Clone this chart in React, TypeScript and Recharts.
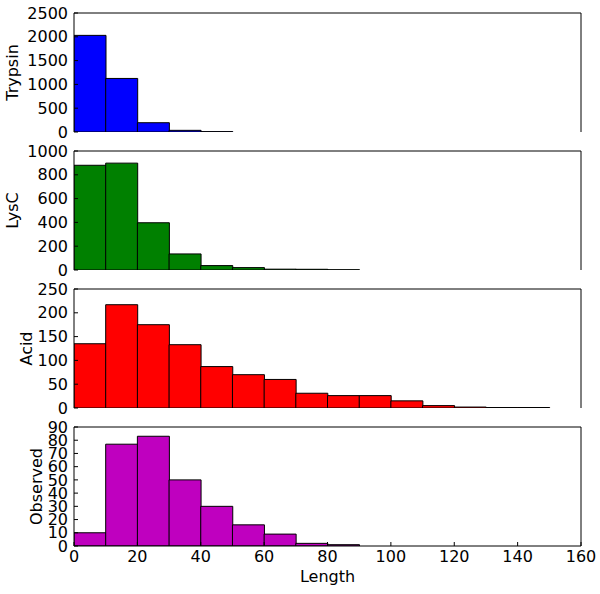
import React from 'react';
import { BarChart, Bar, XAxis, YAxis, Label } from 'recharts';

// Histogram bins of width 10 on Length 0..160 (bin centres)
const binCenters = [5, 15, 25, 35, 45, 55, 65, 75, 85, 95, 105, 115, 125, 135, 145, 155];
const xTicks = [0, 20, 40, 60, 80, 100, 120, 140, 160];

const trypsinCounts = [2030, 1125, 195, 35, 8, 0, 0, 0, 0, 0, 0, 0, 0, 0, 0, 0];
const lysCCounts = [880, 898, 397, 135, 37, 20, 7, 6, 2, 0, 0, 0, 0, 0, 0, 0];
const acidCounts = [135, 217, 175, 133, 87, 70, 60, 31, 26, 26, 15, 5, 2, 1, 1, 0];
const observedCounts = [10, 77, 83, 50, 30, 16, 9, 2, 1, 0, 0, 0, 0, 0, 0, 0];

const trypsinTicks = [0, 500, 1000, 1500, 2000, 2500];
const lysCTicks = [0, 200, 400, 600, 800, 1000];
const acidTicks = [0, 50, 100, 150, 200, 250];
const observedTicks = [0, 10, 20, 30, 40, 50, 60, 70, 80, 90];

const FONT = "'DejaVu Sans', sans-serif";

type PanelProps = {
  values: number[];
  color: string;
  name: string;
  yTicks: number[];
  top: number;
  showX: boolean;
  labelX: number;
};

function Panel({ values, color, name, yTicks, top, showX, labelX }: PanelProps) {
  const data = binCenters.map((m, i) => ({ mid: m, count: values[i] > 0 ? values[i] : null }));
  const yMax = yTicks[yTicks.length - 1];
  const mt = 10;
  const plotH = 119;
  const xh = showX ? 48 : 0;
  const mb = showX ? 0 : 10;
  const h = mt + plotH + xh + mb;
  return (
    <div style={{ position: 'absolute', left: 0, top: top - mt, width: 600, height: h }}>
      <BarChart
        width={600}
        height={h}
        data={data}
        margin={{ top: mt - 1, right: 18, bottom: mb, left: 0 }}
        barCategoryGap={0}
        barGap={0}
      >
        <XAxis
          xAxisId="b"
          dataKey="mid"
          type="number"
          domain={[0, 160]}
          ticks={xTicks}
          interval={0}
          allowDataOverflow
          orientation="bottom"
          height={xh}
          tick={showX ? { fill: '#000', fontSize: 16, fontFamily: FONT } : false}
          tickSize={-4}
          tickMargin={9}
          stroke="#000"
        >
          {showX && (
            <Label
              content={(p: any) => {
                const vb = p.viewBox || { x: 74, y: 546, width: 507, height: 48 };
                return (
                  <text
                    x={vb.x + vb.width / 2}
                    y={vb.y + 35.5}
                    textAnchor="middle"
                    fontSize={16}
                    fontFamily={FONT}
                    fill="#000"
                  >
                    Length
                  </text>
                );
              }}
            />
          )}
        </XAxis>
        <XAxis
          xAxisId="t"
          dataKey="mid"
          type="number"
          domain={[0, 160]}
          ticks={xTicks}
          interval={0}
          allowDataOverflow
          orientation="top"
          height={1}
          tick={false}
          tickSize={-4}
          stroke="#000"
        />
        <YAxis
          yAxisId="l"
          type="number"
          domain={[0, yMax]}
          ticks={yTicks}
          interval={0}
          allowDataOverflow
          width={74}
          tickSize={-4}
          tickMargin={10}
          tick={{ fill: '#000', fontSize: 16, fontFamily: FONT }}
          stroke="#000"
        >
          <Label
            content={(p: any) => {
              const vb = p.viewBox || { x: 0, y: mt, width: 74, height: plotH };
              const cy = vb.y + vb.height / 2;
              return (
                <text
                  x={labelX}
                  y={cy}
                  transform={`rotate(-90 ${labelX} ${cy})`}
                  textAnchor="middle"
                  fontSize={16}
                  fontFamily={FONT}
                  fill="#000"
                >
                  {name}
                </text>
              );
            }}
          />
        </YAxis>
        <YAxis
          yAxisId="r"
          type="number"
          orientation="right"
          domain={[0, yMax]}
          ticks={yTicks}
          interval={0}
          allowDataOverflow
          width={1}
          tick={false}
          tickSize={-4}
          stroke="#000"
        />
        <Bar
          xAxisId="b"
          yAxisId="l"
          dataKey="count"
          fill={color}
          stroke="#000"
          strokeWidth={1}
          isAnimationActive={false}
        />
      </BarChart>
    </div>
  );
}

export default function App() {
  return (
    <div style={{ position: 'absolute', left: 0, top: 0, width: 600, height: 594, background: '#fff' }}>
      <Panel values={trypsinCounts} color="#0000ff" name="Trypsin" yTicks={trypsinTicks} top={13} showX={false} labelX={18} />
      <Panel values={lysCCounts} color="#008000" name="LysC" yTicks={lysCTicks} top={151} showX={false} labelX={18} />
      <Panel values={acidCounts} color="#ff0000" name="Acid" yTicks={acidTicks} top={289} showX={false} labelX={32} />
      <Panel values={observedCounts} color="#bf00bf" name="Observed" yTicks={observedTicks} top={427} showX={true} labelX={42} />
    </div>
  );
}
